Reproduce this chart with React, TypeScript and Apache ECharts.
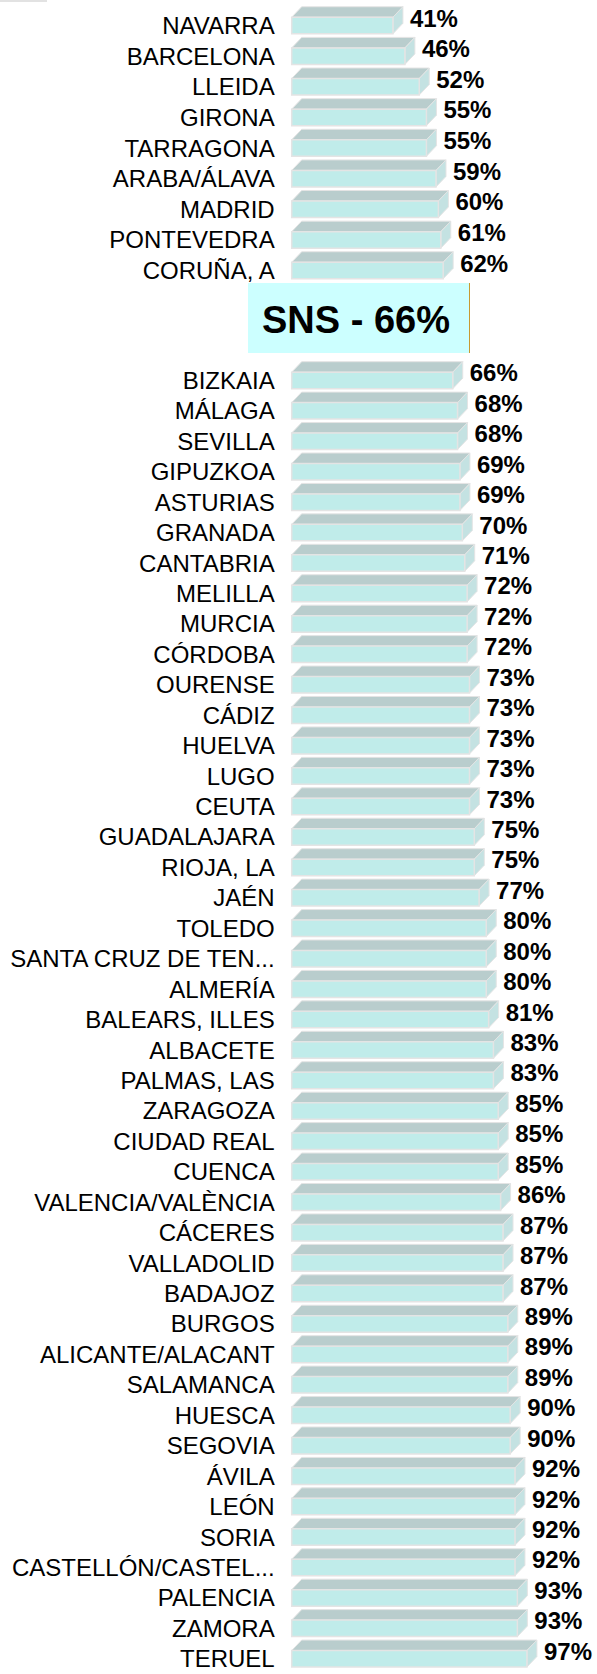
import React, { useEffect, useRef } from "react";
import * as echarts from "echarts";

const topCategories = [
  "NAVARRA", "BARCELONA", "LLEIDA", "GIRONA", "TARRAGONA",
  "ARABA/ÁLAVA", "MADRID", "PONTEVEDRA", "CORUÑA, A",
];
const topValues = [41, 46, 52, 55, 55, 59, 60, 61, 62];

const bottomCategories = [
  "BIZKAIA", "MÁLAGA", "SEVILLA", "GIPUZKOA", "ASTURIAS", "GRANADA", "CANTABRIA",
  "MELILLA", "MURCIA", "CÓRDOBA", "OURENSE", "CÁDIZ", "HUELVA", "LUGO", "CEUTA",
  "GUADALAJARA", "RIOJA, LA", "JAÉN", "TOLEDO", "SANTA CRUZ DE TEN...", "ALMERÍA",
  "BALEARS, ILLES", "ALBACETE", "PALMAS, LAS", "ZARAGOZA", "CIUDAD REAL", "CUENCA",
  "VALENCIA/VALÈNCIA", "CÁCERES", "VALLADOLID", "BADAJOZ", "BURGOS",
  "ALICANTE/ALACANT", "SALAMANCA", "HUESCA", "SEGOVIA", "ÁVILA", "LEÓN", "SORIA",
  "CASTELLÓN/CASTEL...", "PALENCIA", "ZAMORA", "TERUEL",
];
const bottomValues = [
  66, 68, 68, 69, 69, 70, 71, 72, 72, 72, 73, 73, 73, 73, 73, 75, 75, 77, 80, 80, 80,
  81, 83, 83, 85, 85, 85, 86, 87, 87, 87, 89, 89, 89, 90, 90, 92, 92, 92, 92, 93, 93, 97,
];

const snsLabel = "SNS - 66%";

const X_MIN = -1.3;
const X_MAX = 120;
const FONT = "Liberation Sans, Arial, sans-serif";

function renderBar(params: any, api: any) {
  const v = api.value(0);
  const idx = api.value(1);
  const p1 = api.coord([v, idx]);
  const p0 = api.coord([X_MIN, idx]);
  const h = 16.5;
  const dx = 10;
  const dy = 10.5;
  const yc = p1[1];
  const top = yc - h / 2;
  const bottom = yc + h / 2;
  const x0 = p0[0];
  const x1 = p1[0];
  return {
    type: "group",
    children: [
      {
        type: "polygon",
        shape: { points: [[x0, top], [x0 + dx, top - dy], [x1 + dx, top - dy], [x1, top]] },
        style: { fill: "#b9cdcd", stroke: "#e4e4e4", lineWidth: 1 },
      },
      {
        type: "polygon",
        shape: { points: [[x1, top], [x1 + dx, top - dy], [x1 + dx, bottom - dy], [x1, bottom]] },
        style: { fill: "#c4e2e2", stroke: "#e4e4e4", lineWidth: 1 },
      },
      {
        type: "rect",
        shape: { x: x0, y: top, width: x1 - x0, height: h },
        style: { fill: "#c0ecea", stroke: "#e4e4e4", lineWidth: 1.5 },
      },
      {
        type: "text",
        x: x1 + 17,
        y: yc - 7.5,
        style: {
          text: v + "%",
          fill: "#000",
          fontSize: 24,
          fontWeight: "bold",
          fontFamily: FONT,
          align: "left",
          verticalAlign: "middle",
        },
      },
    ],
  };
}

export default function App() {
  const ref = useRef<HTMLDivElement>(null);
  useEffect(() => {
    if (!ref.current) return;
    const chart = echarts.init(ref.current, undefined, { renderer: "svg" });
    const gridLeft = 291.7;
    const gridWidth = (X_MAX - X_MIN) * 2.393;
    const step1 = 30.625;
    const step2 = 30.57;
    const yAxisCommon = {
      type: "category" as const,
      inverse: true,
      axisLine: { show: false },
      axisTick: { show: false },
      splitLine: { show: false },
      axisLabel: {
        interval: 0,
        margin: 17,
        color: "#000",
        fontSize: 24,
        fontFamily: FONT,
        align: "right" as const,
      },
    };
    const xAxisCommon = {
      type: "value" as const,
      min: X_MIN,
      max: X_MAX,
      show: false,
      splitLine: { show: false },
    };
    chart.setOption({
      animation: false,
      backgroundColor: "#ffffff",
      grid: [
        { left: gridLeft, top: 24.5 - step1 / 2 + 1, width: gridWidth, height: step1 * 9 },
        { left: gridLeft, top: 379 - step2 / 2 + 1.5, width: gridWidth, height: step2 * 43 },
      ],
      xAxis: [
        { ...xAxisCommon, gridIndex: 0 },
        { ...xAxisCommon, gridIndex: 1 },
      ],
      yAxis: [
        { ...yAxisCommon, gridIndex: 0, data: topCategories },
        { ...yAxisCommon, gridIndex: 1, data: bottomCategories },
      ],
      series: [
        {
          type: "custom",
          xAxisIndex: 0,
          yAxisIndex: 0,
          renderItem: renderBar,
          encode: { x: 0, y: 1 },
          data: topValues.map((v, i) => [v, i]),
        },
        {
          type: "custom",
          xAxisIndex: 1,
          yAxisIndex: 1,
          renderItem: renderBar,
          encode: { x: 0, y: 1 },
          data: bottomValues.map((v, i) => [v, i]),
        },
      ],
      graphic: [
        {
          type: "rect",
          left: 0,
          top: 0,
          shape: { width: 47, height: 2 },
          style: { fill: "#e2e2e2" },
        },
        {
          type: "rect",
          shape: { x: 248, y: 283, width: 222, height: 70 },
          style: { fill: "#ccffff" },
        },
        {
          type: "line",
          shape: { x1: 469.5, y1: 283, x2: 469.5, y2: 353 },
          style: { stroke: "#c89a30", lineWidth: 1 },
        },
        {
          type: "text",
          x: 356,
          y: 320,
          style: {
            text: snsLabel,
            fill: "#000",
            fontSize: 38,
            fontWeight: "bold",
            fontFamily: FONT,
            align: "center",
            verticalAlign: "middle",
          },
        },
      ],
    });
    return () => chart.dispose();
  }, []);
  return (
    <div
      ref={ref}
      style={{ position: "absolute", left: 0, top: 0, width: 597, height: 1674 }}
    />
  );
}
